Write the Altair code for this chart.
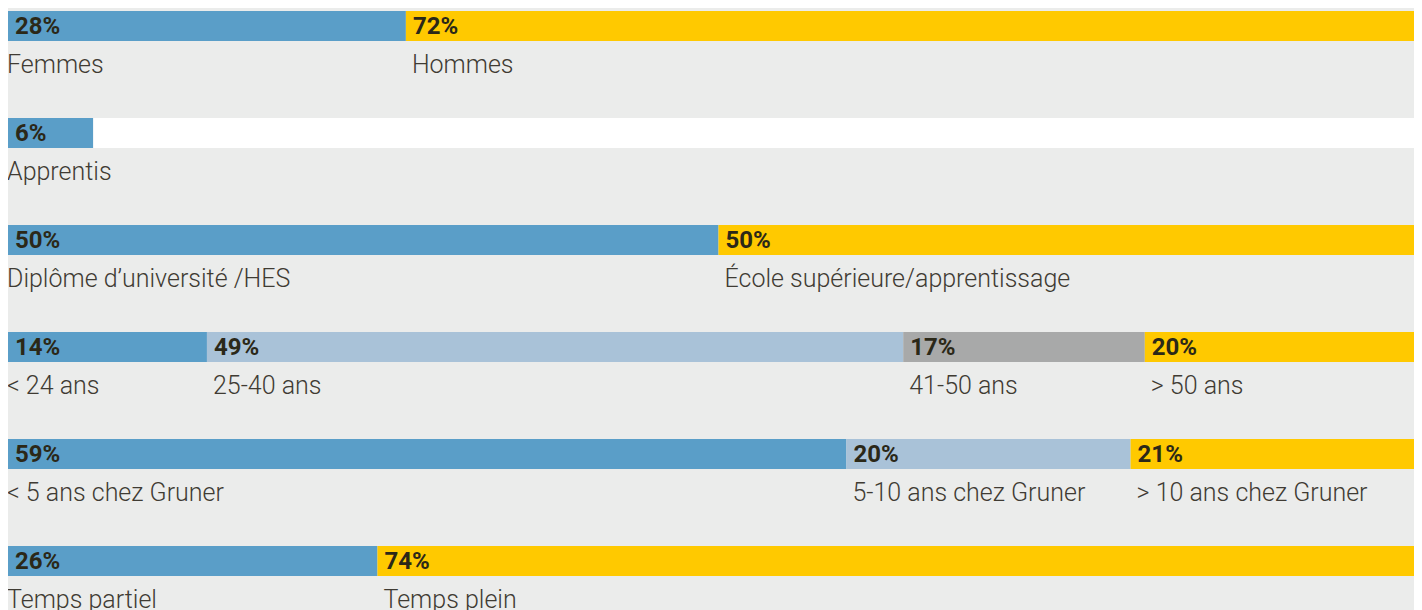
import altair as alt
import pandas as pd

# ---- data ----
row_ids = [0, 0, 1, 1, 2, 2, 3, 3, 3, 3, 4, 4, 4, 5, 5]
values = [28, 72, 6, 94, 50, 50, 14, 49, 17, 20, 59, 20, 21, 26, 74]
pct_labels = ["28%", "72%", "6%", "", "50%", "50%", "14%", "49%", "17%", "20%",
              "59%", "20%", "21%", "26%", "74%"]
cat_labels = ["Femmes", "Hommes", "Apprentis", "", "Diplôme d\u2019université /HES",
              "École supérieure/apprentissage", "< 24 ans", "25-40 ans", "41-50 ans",
              "> 50 ans", "< 5 ans chez Gruner", "5-10 ans chez Gruner",
              "> 10 ans chez Gruner", "Temps partiel", "Temps plein"]
BLUE, LBLUE, GREY, YELLOW, WHITE = "#5a9ec8", "#a9c2d8", "#a8a9a9", "#ffc900", "#ffffff"
seg_colors = [BLUE, YELLOW, BLUE, WHITE, BLUE, YELLOW, BLUE, LBLUE, GREY, YELLOW,
              BLUE, LBLUE, YELLOW, BLUE, YELLOW]

df = pd.DataFrame({"row": row_ids, "value": values, "pct": pct_labels,
                   "cat": cat_labels, "color": seg_colors})
df["end"] = df.groupby("row")["value"].cumsum() / 100.0
df["start"] = df["end"] - df["value"] / 100.0
df["first"] = df.groupby("row").cumcount() == 0

BG = "#ebeceb"
W = 1406
H = 599
p_in = 77 / 107
p_out = (H / 107 - 6 + p_in) / 2

xs = alt.Scale(domain=[0, W / 1421], nice=False, zero=False)
ys = alt.Scale(paddingInner=p_in, paddingOuter=p_out, align=0)

base = alt.Chart(df)
X = alt.X("start:Q", scale=xs, axis=None)
Y = alt.Y("row:O", scale=ys, axis=None)

bars = base.mark_bar(stroke=None, strokeWidth=0).encode(
    x=X, x2="end:Q", y=Y, color=alt.Color("color:N", scale=None)
)

pct_txt = base.mark_text(align="left", baseline="alphabetic", dx=7, dy=8,
                         font="Roboto", fontSize=24, fontWeight="bold",
                         color="#2b2818").encode(x=X, y=Y, text="pct:N")

cat_first = base.transform_filter("datum.first").mark_text(
    align="left", baseline="alphabetic", dx=-1, dy=47, font="Roboto",
    fontSize=25, fontWeight=300, color="#3f3b33").encode(x=X, y=Y, text="cat:N")
cat_rest = base.transform_filter("!datum.first").mark_text(
    align="left", baseline="alphabetic", dx=6, dy=47, font="Roboto",
    fontSize=25, fontWeight=300, color="#3f3b33").encode(x=X, y=Y, text="cat:N")

chart = alt.layer(bars, pct_txt, cat_first, cat_rest).properties(
    width=W, height=H,
    autosize=alt.AutoSizeParams(type="none"),
    padding={"left": 0, "top": 3, "right": 0, "bottom": 0},
    background=BG,
).configure_view(stroke=None)

chart.save("out.html", embed_options={"renderer": "svg", "actions": False})
